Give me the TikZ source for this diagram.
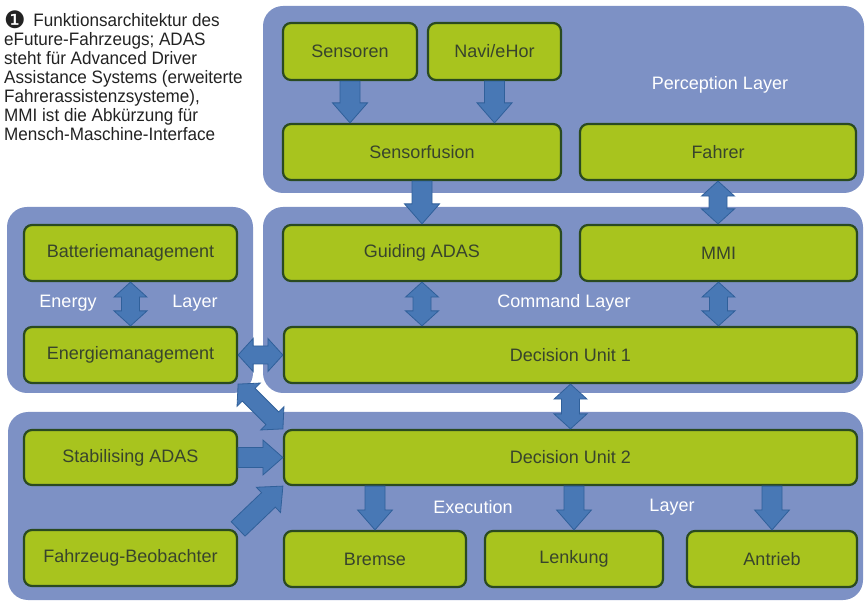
\documentclass[tikz,border=0pt]{standalone}
\usepackage{fontspec}
\setmainfont{Liberation Sans}
\newfontfamily\dejavu{DejaVu Sans}
\newfontfamily\capfont[FakeStretch=0.95]{Liberation Sans}
\usetikzlibrary{calc}
\definecolor{layerblue}{HTML}{7D91C5}
\definecolor{boxgreen}{HTML}{A8C41E}
\definecolor{boxline}{HTML}{2A4A20}
\definecolor{arrfill}{HTML}{4878B5}
\definecolor{arrline}{HTML}{30609A}
\definecolor{boxtext}{HTML}{38442C}
\definecolor{captext}{HTML}{222222}
\tikzset{
  layer/.style={fill=layerblue, rounded corners=20pt},
  gbox/.style={draw=boxline, fill=boxgreen, line width=2.2pt, rounded corners=8pt,
    font=\fontsize{18}{20}\selectfont, text=boxtext, inner sep=0pt},
  lbl/.style={text=white, font=\fontsize{18}{20}\selectfont, inner sep=0pt},
  fat/.style={fill=arrfill, draw=arrline, line width=0.8pt, line join=miter},
}
% single fat arrow from #1 to #2
\newcommand{\onearrow}[2]{%
  \coordinate (aS) at #1; \coordinate (aE) at #2;
  \coordinate (aH) at ($(aE)!20pt!(aS)$);
  \filldraw[fat] ($(aS)!10pt!90:(aE)$) -- ($(aH)!10pt!90:(aE)$) -- ($(aH)!17.5pt!90:(aE)$)
    -- (aE) -- ($(aH)!17.5pt!-90:(aE)$) -- ($(aH)!10pt!-90:(aE)$) -- ($(aS)!10pt!-90:(aE)$) -- cycle;}
% double fat arrow between #1 and #2
\newcommand{\twoarrow}[2]{%
  \coordinate (aS) at #1; \coordinate (aE) at #2;
  \coordinate (aH) at ($(aE)!15pt!(aS)$);
  \coordinate (aG) at ($(aS)!15pt!(aE)$);
  \filldraw[fat] (aS) -- ($(aG)!16.5pt!90:(aE)$) -- ($(aG)!9pt!90:(aE)$) -- ($(aH)!9pt!90:(aE)$)
    -- ($(aH)!16.5pt!90:(aE)$) -- (aE) -- ($(aH)!16.5pt!-90:(aE)$) -- ($(aH)!9pt!-90:(aE)$)
    -- ($(aG)!9pt!-90:(aE)$) -- ($(aG)!16.5pt!-90:(aE)$) -- cycle;}
\begin{document}
\begin{tikzpicture}[x=1pt,y=-1pt]
\useasboundingbox (0,0) rectangle (865,601);
% layers
\fill[layer] (263,6) rectangle (864,193);
\fill[layer] (7,207) rectangle (253,393);
\fill[layer] (263,207) rectangle (863,393);
\fill[layer] (8,412) rectangle (863,600);
% caption
\node[anchor=north west, align=left, inner sep=0pt, text=captext,
  font=\capfont\fontsize{18}{19}\selectfont] (cap) at (4,13)
  {\smash{\raisebox{-2.5pt}{\dejavu\fontsize{24}{18}\selectfont ❶}}\hspace{3pt} Funktionsarchitektur des\\
   eFuture-Fahrzeugs; ADAS\\
   steht für Advanced Driver\\
   Assistance Systems (erweiterte\\
   Fahrerassistenzsysteme),\\
   MMI ist die Abkürzung für\\
   Mensch-Maschine-Interface};
% layer labels
\node[lbl] (lperc) at (720,85) {Perception Layer};
\node[lbl] (lener) at (68,303) {Energy};
\node[lbl] (lenl) at (195,303) {Layer};
\node[lbl] (lcmd) at (564,303) {Command Layer};
\node[lbl] (lexe) at (473,507) {Execution};
\node[lbl] (lexl) at (672,507) {Layer};
% boxes
\node[gbox, minimum width=134pt, minimum height=57pt] (sens) at (350,51.5) {Sensoren};
\node[gbox, minimum width=133pt, minimum height=57pt] (navi) at (494.5,51.5) {Navi/eHor};
\node[gbox, minimum width=278pt, minimum height=56pt] (fus) at (422,152) {Sensorfusion};
\node[gbox, minimum width=276pt, minimum height=56pt] (fahrer) at (718,152) {Fahrer};
\node[gbox, minimum width=213pt, minimum height=56pt] (batt) at (130.5,253) {Batteriemanagement};
\node[gbox, minimum width=278pt, minimum height=56pt] (guide) at (422,253) {Guiding ADAS};
\node[gbox, minimum width=277pt, minimum height=56pt] (mmi) at (718.5,253) {MMI};
\node[gbox, minimum width=213pt, minimum height=56pt] (energ) at (130.5,355) {Energiemanagement};
\node[gbox, minimum width=573pt, minimum height=56pt] (du1) at (570.5,355) {Decision Unit 1};
\node[gbox, minimum width=213pt, minimum height=55pt] (stab) at (130.5,457.5) {Stabilising ADAS};
\node[gbox, minimum width=573pt, minimum height=55pt] (du2) at (570.5,457.5) {Decision Unit 2};
\node[gbox, minimum width=213pt, minimum height=56pt] (fzb) at (130.5,558) {Fahrzeug-Beobachter};
\node[gbox, minimum width=182pt, minimum height=56pt] (bremse) at (375,559) {Bremse};
\node[gbox, minimum width=178pt, minimum height=56pt] (lenk) at (574,559) {Lenkung};
\node[gbox, minimum width=170pt, minimum height=56pt] (antr) at (772,559) {Antrieb};
% arrows
\onearrow{(sens.south)}{(sens.south |- fus.north)}
\onearrow{(navi.south)}{(navi.south |- fus.north)}
\onearrow{(fus.south)}{(fus.south |- guide.north)}
\twoarrow{(fahrer.south)}{(fahrer.south |- mmi.north)}
\twoarrow{(batt.south)}{(energ.north)}
\twoarrow{(guide.south)}{(guide.south |- du1.north)}
\twoarrow{(mmi.south)}{(mmi.south |- du1.north)}
\twoarrow{(energ.east)}{(energ.east -| du1.west)}
\twoarrow{(du1.south)}{(du1.south |- du2.north)}
\twoarrow{(energ.south east)}{(du2.north west)}
\onearrow{(stab.east)}{(stab.east -| du2.west)}
\onearrow{(fzb.north east)}{(du2.south west)}
\onearrow{(bremse.north |- du2.south)}{(bremse.north)}
\onearrow{(lenk.north |- du2.south)}{(lenk.north)}
\onearrow{(antr.north |- du2.south)}{(antr.north)}
\end{tikzpicture}
\end{document}
